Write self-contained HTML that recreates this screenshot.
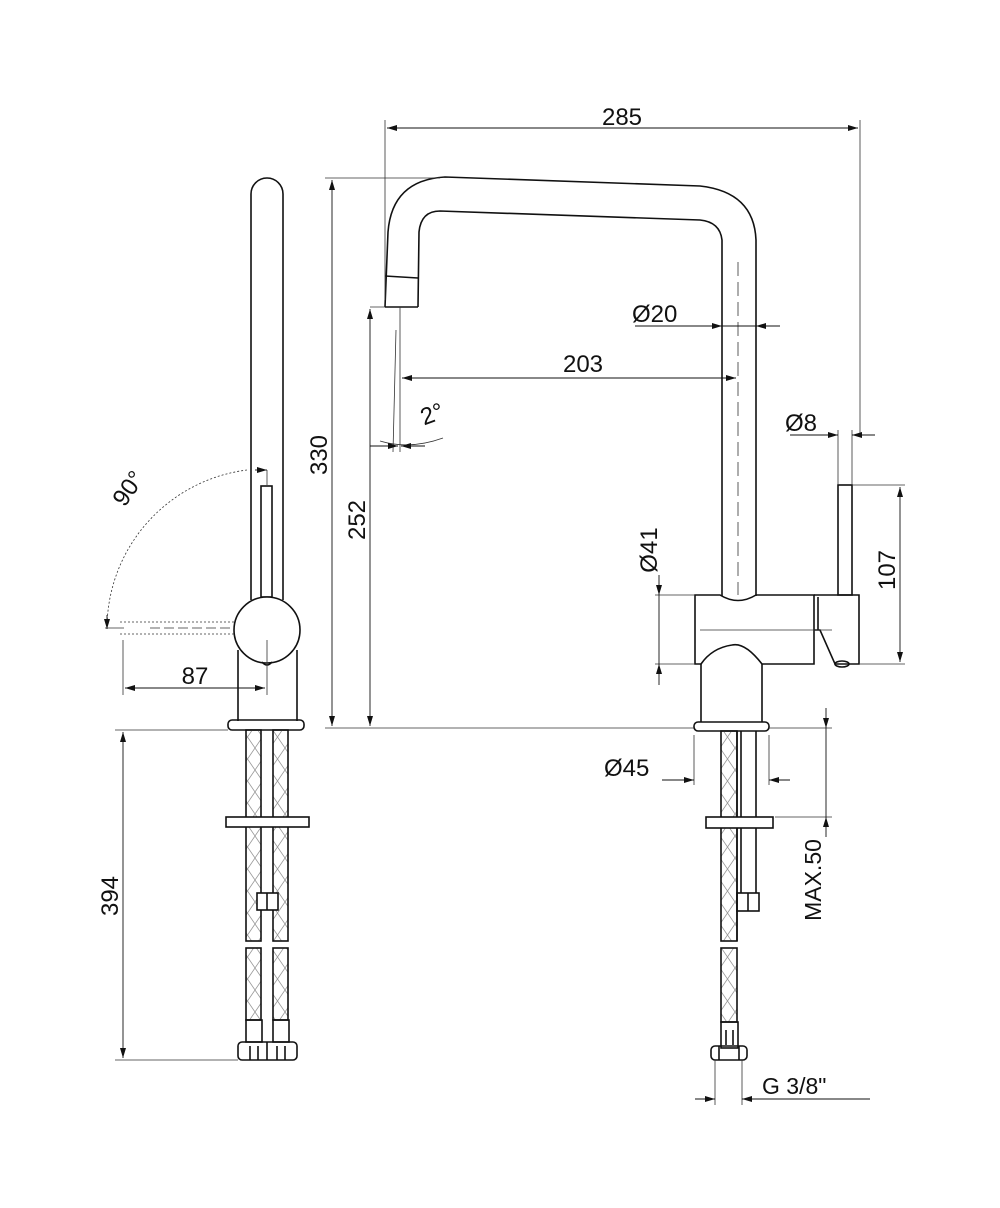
<!DOCTYPE html>
<html><head><style>html,body{margin:0;padding:0;background:#fff}svg{display:block}
text{font-family:"Liberation Sans",Arial,sans-serif;fill:#111}</style></head>
<body>
<svg width="1000" height="1208" viewBox="0 0 1000 1208" xmlns="http://www.w3.org/2000/svg">
<defs>
<marker id="a" viewBox="0 0 10 6" refX="10" refY="3" markerWidth="10" markerHeight="6" orient="auto-start-reverse" markerUnits="userSpaceOnUse"><path d="M0,0 L10,3 L0,6z" fill="#111"/></marker>
<pattern id="br" width="15" height="22" patternUnits="userSpaceOnUse"><path d="M0,0 L15,22 M15,0 L0,22" stroke="#999" stroke-width="0.8" fill="none"/></pattern>
</defs>
<g stroke="#111" stroke-width="1.6" fill="none">
<path d="M385,307 L388,232 Q392,180 445,177 L700,186 Q754,192 756,240 L756,596"/>
<path d="M418,307 L419,232 Q421,211 440,211 L700,220 Q720,222 722,240 L722,596"/>
<path d="M385,276 L418,278 M385,307 L418,307"/>
<path d="M695,595 L720,595 Q738,606 756,595 L814,595 L814,664 L762,664 Q745,642 732,645 Q712,648 701,664 L695,664 Z"/>
<path d="M701,664 L701,722 M762,664 L762,722"/>
<path d="M814,595 L859,595 L859,664 L835,664 L820,630 L814,630"/>
<path d="M818,597 L818,630"/>
<ellipse cx="842" cy="664" rx="7" ry="3"/>
<rect x="838" y="485" width="14" height="110"/>
<rect x="694" y="722" width="75" height="9" rx="4"/>
<rect x="721" y="731" width="16" height="210" fill="url(#br)"/>
<rect x="721" y="948" width="16" height="74" fill="url(#br)"/>
<path d="M737,731 L737,941 M741,731 L741,893 M756,731 L756,893"/>
<rect x="706" y="817" width="67" height="11" fill="#fff"/>
<rect x="737" y="893" width="22" height="18"/><path d="M748,893 V911"/>
<rect x="721" y="1022" width="17" height="26"/><path d="M726,1030 V1045 M733,1030 V1045"/>
<rect x="711" y="1046" width="36" height="14" rx="4"/><path d="M719,1046 V1060 M739,1046 V1060"/>
<path d="M251,600 L251,194 A16,16 0 0 1 283,194 L283,600"/>
<rect x="261" y="486" width="11" height="111"/>
<circle cx="267" cy="630" r="33" fill="#fff"/>
<path d="M238,650 L238,721 M297,650 L297,721"/>
<path d="M262,662 Q267,668 272,662"/>
<rect x="228" y="720" width="76" height="10" rx="4"/>
<rect x="246" y="730" width="15" height="211" fill="url(#br)"/>
<rect x="273" y="730" width="15" height="211" fill="url(#br)"/>
<rect x="246" y="948" width="15" height="72" fill="url(#br)"/>
<rect x="273" y="948" width="15" height="72" fill="url(#br)"/>
<rect x="226" y="817" width="83" height="10" fill="#fff"/>
<rect x="257" y="893" width="21" height="17" fill="#fff"/><path d="M267,893 V910"/>
<rect x="246" y="1020" width="16" height="22"/><rect x="273" y="1020" width="16" height="22"/>
<rect x="238" y="1042" width="59" height="18" rx="4"/><path d="M250,1046 V1060 M258,1046 V1060 M277,1046 V1060 M285,1046 V1060 M267,1042 V1060"/>
</g>
<g stroke="#333" stroke-width="0.8" fill="none">
<path d="M385,120 V300 M860,120 V437 M325,178 H440 M325,728 H694 M769,728 H832 M700,630 H832" />
<path d="M738,262 V595" stroke-dasharray="14,6"/>
<path d="M655,595 H695 M655,664 H695 M852,485 H905 M859,664 H905 M838,430 V485 M852,430 V485 M694,735 V785 M769,735 V785 M775,817 H832 M715,1060 V1105 M742,1060 V1105 M400,307 V452 M396,330 L393,452 M370,307 H385"/>
<path d="M380,441 Q410,450 443,438"/>
<path d="M115,730 H228 M115,1060 H238 M123,640 V695 M267,640 V695 M105,628 H124"/>
<path d="M120,622 H235 M120,634 H235" stroke-dasharray="2,2"/>
<path d="M150,628 H235" stroke-dasharray="10,4"/>
<path d="M247,470 A160,160 0 0 0 107,628" stroke-dasharray="2,2"/>
<path d="M267,470 V485" />
</g>
<g stroke="#111" stroke-width="0.9" fill="none">
<line x1="387" y1="128" x2="858" y2="128" marker-start="url(#a)" marker-end="url(#a)"/>
<line x1="332" y1="180" x2="332" y2="726" marker-start="url(#a)" marker-end="url(#a)"/>
<line x1="370" y1="309" x2="370" y2="726" marker-start="url(#a)" marker-end="url(#a)"/>
<line x1="402" y1="378" x2="736" y2="378" marker-start="url(#a)" marker-end="url(#a)"/>
<line x1="635" y1="326" x2="722" y2="326" marker-end="url(#a)"/><line x1="780" y1="326" x2="756" y2="326" marker-end="url(#a)"/><line x1="722" y1="326" x2="756" y2="326"/>
<line x1="790" y1="435" x2="838" y2="435" marker-end="url(#a)"/><line x1="875" y1="435" x2="852" y2="435" marker-end="url(#a)"/>
<line x1="659" y1="575" x2="659" y2="595" marker-end="url(#a)"/><line x1="659" y1="685" x2="659" y2="664" marker-end="url(#a)"/><line x1="659" y1="595" x2="659" y2="664"/>
<line x1="900" y1="487" x2="900" y2="662" marker-start="url(#a)" marker-end="url(#a)"/>
<line x1="662" y1="780" x2="694" y2="780" marker-end="url(#a)"/><line x1="790" y1="780" x2="769" y2="780" marker-end="url(#a)"/>
<line x1="826" y1="708" x2="826" y2="728" marker-end="url(#a)"/><line x1="826" y1="837" x2="826" y2="817" marker-end="url(#a)"/><line x1="826" y1="728" x2="826" y2="817"/>
<line x1="695" y1="1099" x2="715" y2="1099" marker-end="url(#a)"/><line x1="870" y1="1099" x2="742" y2="1099" marker-end="url(#a)"/>
<line x1="370" y1="446" x2="398" y2="446" marker-end="url(#a)"/><line x1="425" y1="446" x2="401" y2="446" marker-end="url(#a)"/>
<line x1="125" y1="688" x2="265" y2="688" marker-start="url(#a)" marker-end="url(#a)"/>
<line x1="123" y1="732" x2="123" y2="1058" marker-start="url(#a)" marker-end="url(#a)"/>
<line x1="255" y1="470" x2="267" y2="470" marker-end="url(#a)"/>
<line x1="107" y1="615" x2="107" y2="629" marker-end="url(#a)"/>
</g>
<g font-size="24">
<text x="622" y="125" text-anchor="middle">285</text>
<text x="632" y="322">Ø20</text>
<text x="583" y="372" text-anchor="middle">203</text>
<text x="432" y="422" text-anchor="middle" transform="rotate(-20 432 414)">2°</text>
<text x="785" y="431">Ø8</text>
<text transform="translate(327,455) rotate(-90)" text-anchor="middle">330</text>
<text transform="translate(365,520) rotate(-90)" text-anchor="middle">252</text>
<text transform="translate(657,550) rotate(-90)" text-anchor="middle">Ø41</text>
<text transform="translate(895,570) rotate(-90)" text-anchor="middle">107</text>
<text x="604" y="776">Ø45</text>
<text transform="translate(821,880) rotate(-90)" text-anchor="middle" font-family="Liberation Mono,monospace" font-size="23">MAX.50</text>
<text x="762" y="1094" font-family="Liberation Mono,monospace" font-size="23">G 3/8"</text>
<text x="195" y="684" text-anchor="middle">87</text>
<text transform="translate(135,493) rotate(-55)" text-anchor="middle">90°</text>
<text transform="translate(118,896) rotate(-90)" text-anchor="middle">394</text>
</g>
</svg>
</body></html>
